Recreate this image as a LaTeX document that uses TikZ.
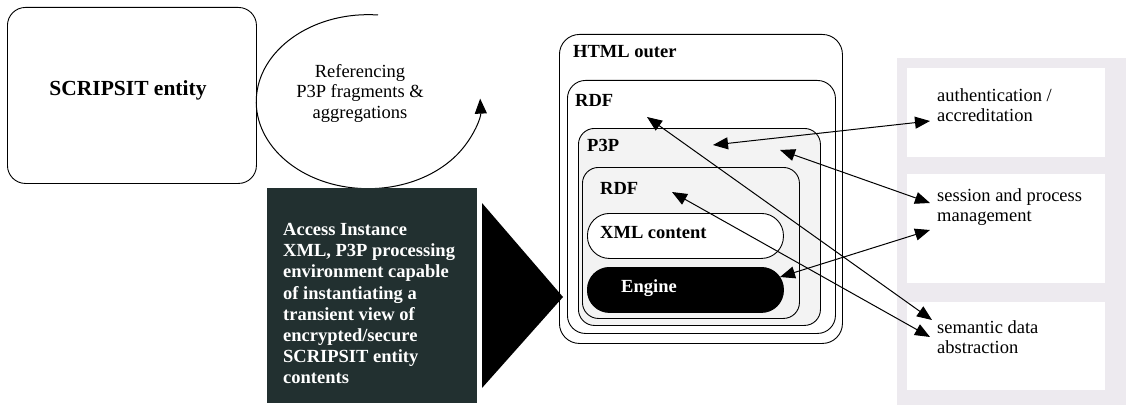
\documentclass[tikz,border=0pt]{standalone}
\usepackage{fontspec}
\setmainfont{Liberation Serif}
\usetikzlibrary{arrows.meta,positioning}
\definecolor{darkbox}{RGB}{34,48,48}
\definecolor{shade}{RGB}{243,243,243}
\definecolor{panel}{RGB}{237,234,239}

\begin{document}
\begin{tikzpicture}[x=1pt,y=1pt,
        lbl/.style={font=\fontsize{18.5}{21}\selectfont\bfseries, anchor=west, inner sep=0pt},
        txt/.style={font=\fontsize{18.5}{20.5}\selectfont, align=left, inner sep=0pt},
        nest/.style={draw, line width=0.9pt, anchor=north west, inner sep=0pt},
        link/.style={{Triangle[length=15pt,width=12pt]}-{Triangle[length=15pt,width=12pt]}, line width=1pt}]
        \useasboundingbox (0,0) rectangle (1128,-412);
        % Entity and referencing loop
        \node[draw, line width=0.9pt, rounded corners=18pt, anchor=north west, inner sep=0pt,
              minimum width=249pt, minimum height=176pt] (entity) at (7,-7) {};
        \node[font=\fontsize{21.5}{24}\selectfont\bfseries] (entitytxt) at (128,-90) {SCRIPSIT entity};
        \draw[-{Triangle[length=15pt,width=12pt]}, line width=1pt]
            (378,-15) arc[start angle=85, end angle=362, x radius=112pt, y radius=87pt];
        \node[txt, align=center] (refs) at (360,-93) {Referencing\\P3P fragments \&\\aggregations};
        % Access instance
        \node[fill=darkbox, anchor=north west, inner sep=0pt, minimum width=210pt, minimum height=215pt] (access) at (267,-188) {};
        \node[txt, font=\fontsize{18.5}{21.2}\selectfont\bfseries, text=white, anchor=north west] (accesstxt) at (283,-223)
            {Access Instance\\XML, P3P processing\\environment capable\\of instantiating a\\transient view of\\encrypted/secure\\SCRIPSIT entity\\contents};
        \fill (482,-203) -- (563,-297) -- (482,-388) -- cycle;
        % Nested containers
        \node[nest, rounded corners=20pt, minimum width=283pt, minimum height=309pt] (html) at (559,-34) {};
        \node[nest, rounded corners=18pt, minimum width=268pt, minimum height=253pt] (rdfout) at (567,-80) {};
        \node[nest, fill=shade, rounded corners=16pt, minimum width=242pt, minimum height=197pt] (p3p) at (578,-128) {};
        \node[nest, fill=shade, rounded corners=16pt, minimum width=217pt, minimum height=151pt] (rdfin) at (582,-167) {};
        \node[nest, fill=white, rounded corners=22pt, minimum width=196pt, minimum height=45pt] (xml) at (587,-213) {};
        \node[nest, fill=black, rounded corners=22pt, minimum width=196pt, minimum height=45pt] (engine) at (587,-267) {};
        \node[lbl] (htmllbl) at (573,-52) {HTML outer};
        \node[lbl] (rdfoutlbl) at (575,-100) {RDF};
        \node[lbl] (p3plbl) at (587,-145) {P3P};
        \node[lbl] (rdfinlbl) at (600,-188) {RDF};
        \node[lbl] (xmllbl) at (600,-233) {XML content};
        \node[lbl, text=white, anchor=center] (enginelbl) at (649,-288) {Engine};
        % Services
        \fill[panel] (897,-58) rectangle (1126,-405);
        \foreach \n/\t/\h in {auth/68/89, sess/174/109, sem/302/88}
            \node[fill=white, anchor=north west, inner sep=0pt, minimum width=198pt, minimum height=\h pt] (\n) at (907,-\t) {};
        \node[txt, anchor=north west] (authtxt) at (937,-88) {authentication /\\accreditation};
        \node[txt, anchor=north west] (sesstxt) at (937,-188) {session and process\\management};
        \node[txt, anchor=north west] (semtxt) at (937,-320) {semantic data\\abstraction};
        % Links
        \coordinate (p3pa) at (713,-145);
        \coordinate (p3pb) at (780,-150);
        \coordinate (engin) at (780,-277);
        \coordinate (rdfa) at (647,-117);
        \coordinate (rdfb) at (672,-192);
        \coordinate (authin) at (930,-121);
        \coordinate (sessa) at (930,-203);
        \coordinate (sessb) at (930,-230);
        \coordinate (sema) at (932,-320);
        \coordinate (semb) at (930,-337);
        \foreach \s/\e in {p3pa/authin, p3pb/sessa, engin/sessb, rdfa/sema, rdfb/semb}
            \draw[link] (\s) -- (\e);
\end{tikzpicture}
\end{document}
